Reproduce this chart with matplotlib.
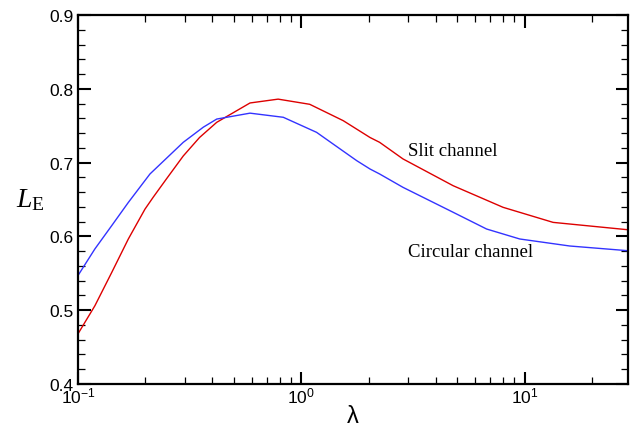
import numpy as np
import matplotlib
matplotlib.use('Agg')
import matplotlib.pyplot as plt
from matplotlib.ticker import LogLocator, MultipleLocator, NullFormatter

plt.rcParams['font.family'] = ['Liberation Sans', 'DejaVu Sans']
plt.rcParams['mathtext.fontset'] = 'custom'
plt.rcParams['mathtext.rm'] = 'Liberation Serif'
plt.rcParams['mathtext.it'] = 'Liberation Serif:italic'

# values
lam_slit = [0.1, 0.119, 0.1415, 0.168, 0.1995, 0.217, 0.249, 0.296, 0.35, 0.418,
            0.589, 0.787, 1.09, 1.54, 2.03, 2.24, 2.85, 4.78, 8.0, 13.4, 29.0]
le_slit = [0.468, 0.506, 0.551, 0.5965, 0.637, 0.653, 0.678, 0.709, 0.734, 0.7546,
           0.7808, 0.786, 0.779, 0.7568, 0.734, 0.7275, 0.705, 0.6687, 0.6394, 0.619, 0.609]

lam_circ = [0.1, 0.119, 0.1415, 0.168, 0.21, 0.296, 0.364, 0.418, 0.589, 0.83,
            1.17, 1.39, 1.77, 2.03, 2.24, 2.85, 4.78, 6.75, 9.5, 15.9, 29.0]
le_circ = [0.547, 0.583, 0.6145, 0.646, 0.6846, 0.7275, 0.748, 0.759, 0.767, 0.7614,
           0.741, 0.725, 0.7026, 0.6913, 0.6846, 0.6665, 0.6327, 0.610, 0.5965, 0.587, 0.5806]

fig = plt.figure(figsize=(6.3, 4.31), dpi=100)
ax = fig.add_axes([78 / 630, 46 / 431, 550 / 630, 369 / 431])

ax.plot(lam_slit, le_slit, color='#dd0000', lw=1.0)
ax.plot(lam_circ, le_circ, color='#3333ff', lw=1.0)

ax.set_xscale('log')
ax.set_xlim(0.1, 29)
ax.set_ylim(0.4, 0.9)
ax.xaxis.set_major_locator(LogLocator(base=10, numticks=10))
ax.xaxis.set_minor_locator(LogLocator(base=10, subs=np.arange(2, 10), numticks=20))
ax.xaxis.set_minor_formatter(NullFormatter())
ax.yaxis.set_major_locator(MultipleLocator(0.1))
ax.yaxis.set_minor_locator(MultipleLocator(0.02))

ax.tick_params(which='both', direction='in', top=True, right=True, labelsize=12.5)
ax.tick_params(which='major', length=9, width=1.5)
ax.tick_params(which='minor', length=5, width=0.9)
ax.tick_params(axis='x', pad=1)
ax.tick_params(axis='y', pad=3)
for s in ax.spines.values():
    s.set_linewidth(1.6)

ax.set_xlabel('λ', fontsize=17, labelpad=0)
ax.set_ylabel('$L_{\\mathrm{E}}$', fontsize=20, rotation=0, labelpad=14, va='center')

ax.text(3.0, 0.716, 'Slit channel', fontsize=13.5, family='Liberation Serif', va='center')
ax.text(3.0, 0.580, 'Circular channel', fontsize=13.5, family='Liberation Serif', va='center')

fig.savefig('out.png', dpi=100)
